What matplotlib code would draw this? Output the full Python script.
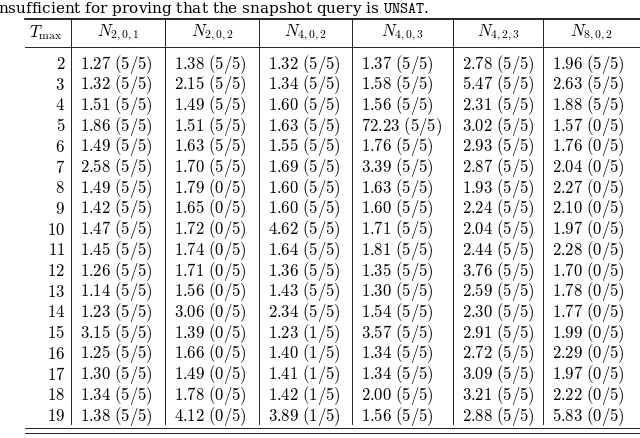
import matplotlib.pyplot as plt

plt.rcParams['mathtext.fontset'] = 'cm'

t_max = list(range(2, 20))
headers = [r'$N_{2,0,1}$', r'$N_{2,0,2}$', r'$N_{4,0,2}$', r'$N_{4,0,3}$', r'$N_{4,2,3}$', r'$N_{8,0,2}$']
n201 = ['1.27 (5/5)', '1.32 (5/5)', '1.51 (5/5)', '1.86 (5/5)', '1.49 (5/5)', '2.58 (5/5)', '1.49 (5/5)', '1.42 (5/5)', '1.47 (5/5)',
        '1.45 (5/5)', '1.26 (5/5)', '1.14 (5/5)', '1.23 (5/5)', '3.15 (5/5)', '1.25 (5/5)', '1.30 (5/5)', '1.34 (5/5)', '1.38 (5/5)']
n202 = ['1.38 (5/5)', '2.15 (5/5)', '1.49 (5/5)', '1.51 (5/5)', '1.63 (5/5)', '1.70 (5/5)', '1.79 (0/5)', '1.65 (0/5)', '1.72 (0/5)',
        '1.74 (0/5)', '1.71 (0/5)', '1.56 (0/5)', '3.06 (0/5)', '1.39 (0/5)', '1.66 (0/5)', '1.49 (0/5)', '1.78 (0/5)', '4.12 (0/5)']
n402 = ['1.32 (5/5)', '1.34 (5/5)', '1.60 (5/5)', '1.63 (5/5)', '1.55 (5/5)', '1.69 (5/5)', '1.60 (5/5)', '1.60 (5/5)', '4.62 (5/5)',
        '1.64 (5/5)', '1.36 (5/5)', '1.43 (5/5)', '2.34 (5/5)', '1.23 (1/5)', '1.40 (1/5)', '1.41 (1/5)', '1.42 (1/5)', '3.89 (1/5)']
n403 = ['1.37 (5/5)', '1.58 (5/5)', '1.56 (5/5)', '72.23 (5/5)', '1.76 (5/5)', '3.39 (5/5)', '1.63 (5/5)', '1.60 (5/5)', '1.71 (5/5)',
        '1.81 (5/5)', '1.35 (5/5)', '1.30 (5/5)', '1.54 (5/5)', '3.57 (5/5)', '1.34 (5/5)', '1.34 (5/5)', '2.00 (5/5)', '1.56 (5/5)']
n423 = ['2.78 (5/5)', '5.47 (5/5)', '2.31 (5/5)', '3.02 (5/5)', '2.93 (5/5)', '2.87 (5/5)', '1.93 (5/5)', '2.24 (5/5)', '2.04 (5/5)',
        '2.44 (5/5)', '3.76 (5/5)', '2.59 (5/5)', '2.30 (5/5)', '2.91 (5/5)', '2.72 (5/5)', '3.09 (5/5)', '3.21 (5/5)', '2.88 (5/5)']
n802 = ['1.96 (5/5)', '2.63 (5/5)', '1.88 (5/5)', '1.57 (0/5)', '1.76 (0/5)', '2.04 (0/5)', '2.27 (0/5)', '2.10 (0/5)', '1.97 (0/5)',
        '2.28 (0/5)', '1.70 (0/5)', '1.78 (0/5)', '1.77 (0/5)', '1.99 (0/5)', '2.29 (0/5)', '1.97 (0/5)', '2.22 (0/5)', '5.83 (0/5)']
columns = [n201, n202, n402, n403, n423, n802]

fig = plt.figure(figsize=(6.4, 4.38), dpi=100)
ax = fig.add_axes([0, 0, 1, 1])
ax.set_xlim(0, 640)
ax.set_ylim(438, 0)
ax.axis('off')

fs = 11
ax.text(-2, 9, r'nsufficient for proving that the snapshot query is $\mathtt{UNSAT}$.',
        fontsize=fs, va='center', ha='left', family='DejaVu Serif', math_fontfamily='cm')

seps = [71, 165, 259, 352, 453, 543]
left, right = 25, 645
ax.plot([left, right], [19, 19], color='black', lw=1.2)
ax.plot([left, right], [47, 47], color='black', lw=0.6)
ax.plot([left, right], [428, 428], color='black', lw=0.6)
ax.plot([left, right], [433, 433], color='black', lw=0.6)
for x in seps:
    ax.plot([x, x], [19, 424], color='black', lw=0.6)

ax.text(46, 33, r'$T_{\max}$', fontsize=fs + 1, ha='center', va='center')
bounds = seps + [640]
for i, h in enumerate(headers):
    ax.text((bounds[i] + bounds[i + 1]) / 2, 33, h, fontsize=fs + 1, ha='center', va='center')

y0, dy = 64, (416 - 64) / 17
for r, t in enumerate(t_max):
    y = y0 + r * dy
    ax.text(65, y, r'$\mathrm{%d}$' % t, fontsize=fs + 1, ha='right', va='center')
    for i, col in enumerate(columns):
        cell = col[r].replace(' ', r'\ ')
        ax.text(seps[i] + 9, y, r'$\mathrm{%s}$' % cell,
                fontsize=fs + 1, ha='left', va='center')

fig.savefig('out.png', dpi=100)
